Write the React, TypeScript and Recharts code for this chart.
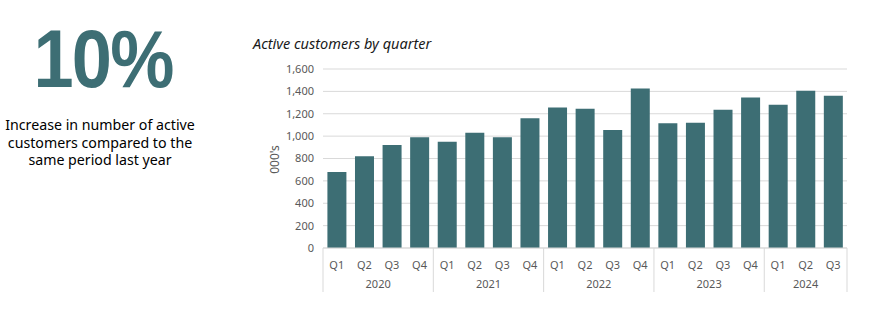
import { Bar, BarChart, CartesianGrid, XAxis, YAxis } from 'recharts';

const years = ['2020', '2021', '2022', '2023', '2024'];
const quarters = ['Q1', 'Q2', 'Q3', 'Q4'];
// active customers, 000's
const customers = [
  680, 820, 920, 990,
  950, 1030, 990, 1160,
  1255, 1245, 1055, 1425,
  1115, 1120, 1235, 1345,
  1280, 1405, 1360,
];
const yTicks = [0, 200, 400, 600, 800, 1000, 1200, 1400, 1600];

const data = customers.map((value, i) => ({
  quarter: quarters[i % 4],
  year: years[Math.floor(i / 4)],
  value,
}));

const W = 887;
const H = 333;
const PLOT_LEFT = 323;
const PLOT_RIGHT = 847;
const PLOT_TOP = 69;
const PLOT_BOTTOM = 248;
const Y_AXIS_W = 60;
const X_AXIS_H = 45;
const BAND = (PLOT_RIGHT - PLOT_LEFT) / data.length;

const TEAL = '#3d6e74';
const GRID = '#d9d9d9';
const TICK = '#595959';
const FONT = '"Noto Sans", "Open Sans", sans-serif';

function QuarterTick(props: any) {
  const { x, y, payload } = props;
  const i = payload.index;
  const row = data[i];
  const groupStart = data.findIndex((d) => d.year === row.year);
  const groupSize = data.filter((d) => d.year === row.year).length;
  const isFirst = i === groupStart;
  const isLast = i === data.length - 1;
  const left = x - BAND / 2;
  return (
    <g>
      <text x={x} y={y + 16} textAnchor="middle" dominantBaseline="central" fill={TICK} fontSize={11} fontFamily={FONT}>
        {row.quarter}
      </text>
      {isFirst && (
        <>
          <line x1={left} x2={left} y1={y} y2={y + 44} stroke={GRID} strokeWidth={1} />
          <text
            x={left + (groupSize * BAND) / 2}
            y={y + 35}
            textAnchor="middle"
            dominantBaseline="central"
            fill={TICK}
            fontSize={11}
            fontFamily={FONT}
          >
            {row.year}
          </text>
        </>
      )}
      {isLast && <line x1={x + BAND / 2} x2={x + BAND / 2} y1={y} y2={y + 44} stroke={GRID} strokeWidth={1} />}
    </g>
  );
}

export default function App() {
  return (
    <div style={{ position: 'absolute', left: 0, top: 0, width: W, height: H, background: '#fff', fontFamily: FONT }}>
      <div
        style={{
          position: 'absolute',
          left: 0,
          width: 206,
          top: 9,
          textAlign: 'center',
          color: TEAL,
          fontFamily: '"Liberation Sans", Arial, sans-serif',
          fontWeight: 700,
          fontSize: 82,
          lineHeight: '100px',
          letterSpacing: -2,
          transform: 'scaleX(0.88)',
        }}
      >
        10%
      </div>
      <div
        style={{
          position: 'absolute',
          left: 0,
          width: 200,
          top: 116,
          textAlign: 'center',
          color: '#000',
          fontSize: 14.2,
          lineHeight: '17.5px',
        }}
      >
        Increase in number of active
        <br />
        customers compared to the
        <br />
        same period last year
      </div>
      <div
        style={{
          position: 'absolute',
          left: 253,
          top: 33,
          fontSize: 14.5,
          fontStyle: 'italic',
          color: '#1a1a1a',
          whiteSpace: 'nowrap',
        }}
      >
        Active customers by quarter
      </div>
      <div style={{ position: 'absolute', left: 0, top: 0 }}>
        <BarChart
          width={W}
          height={H}
          data={data}
          barCategoryGap="16%"
          margin={{
            top: PLOT_TOP,
            right: W - PLOT_RIGHT,
            left: PLOT_LEFT - Y_AXIS_W,
            bottom: H - PLOT_BOTTOM - X_AXIS_H,
          }}
        >
          <CartesianGrid vertical={false} stroke={GRID} />
          <XAxis
            dataKey="quarter"
            interval={0}
            height={X_AXIS_H}
            tickLine={false}
            tickSize={0}
            tickMargin={0}
            axisLine={{ stroke: GRID }}
            tick={<QuarterTick />}
          />
          <YAxis
            width={Y_AXIS_W}
            domain={[0, 1600]}
            ticks={yTicks}
            interval={0}
            axisLine={false}
            tickLine={false}
            tickMargin={3}
            tick={{ fill: TICK, fontSize: 11, fontFamily: FONT }}
            tickFormatter={(v: number) => v.toLocaleString('en-US')}
            label={{
              content: ({ viewBox }: any) => {
                const cx = viewBox.x + 11;
                const cy = viewBox.y + viewBox.height / 2 + 1;
                return (
                  <text
                    x={cx}
                    y={cy}
                    transform={`rotate(-90, ${cx}, ${cy})`}
                    textAnchor="middle"
                    dominantBaseline="central"
                    fill={TICK}
                    fontSize={12}
                    fontFamily={FONT}
                  >
                    000's
                  </text>
                );
              },
            }}
          />
          <Bar dataKey="value" fill={TEAL} isAnimationActive={false} />
        </BarChart>
      </div>
    </div>
  );
}
